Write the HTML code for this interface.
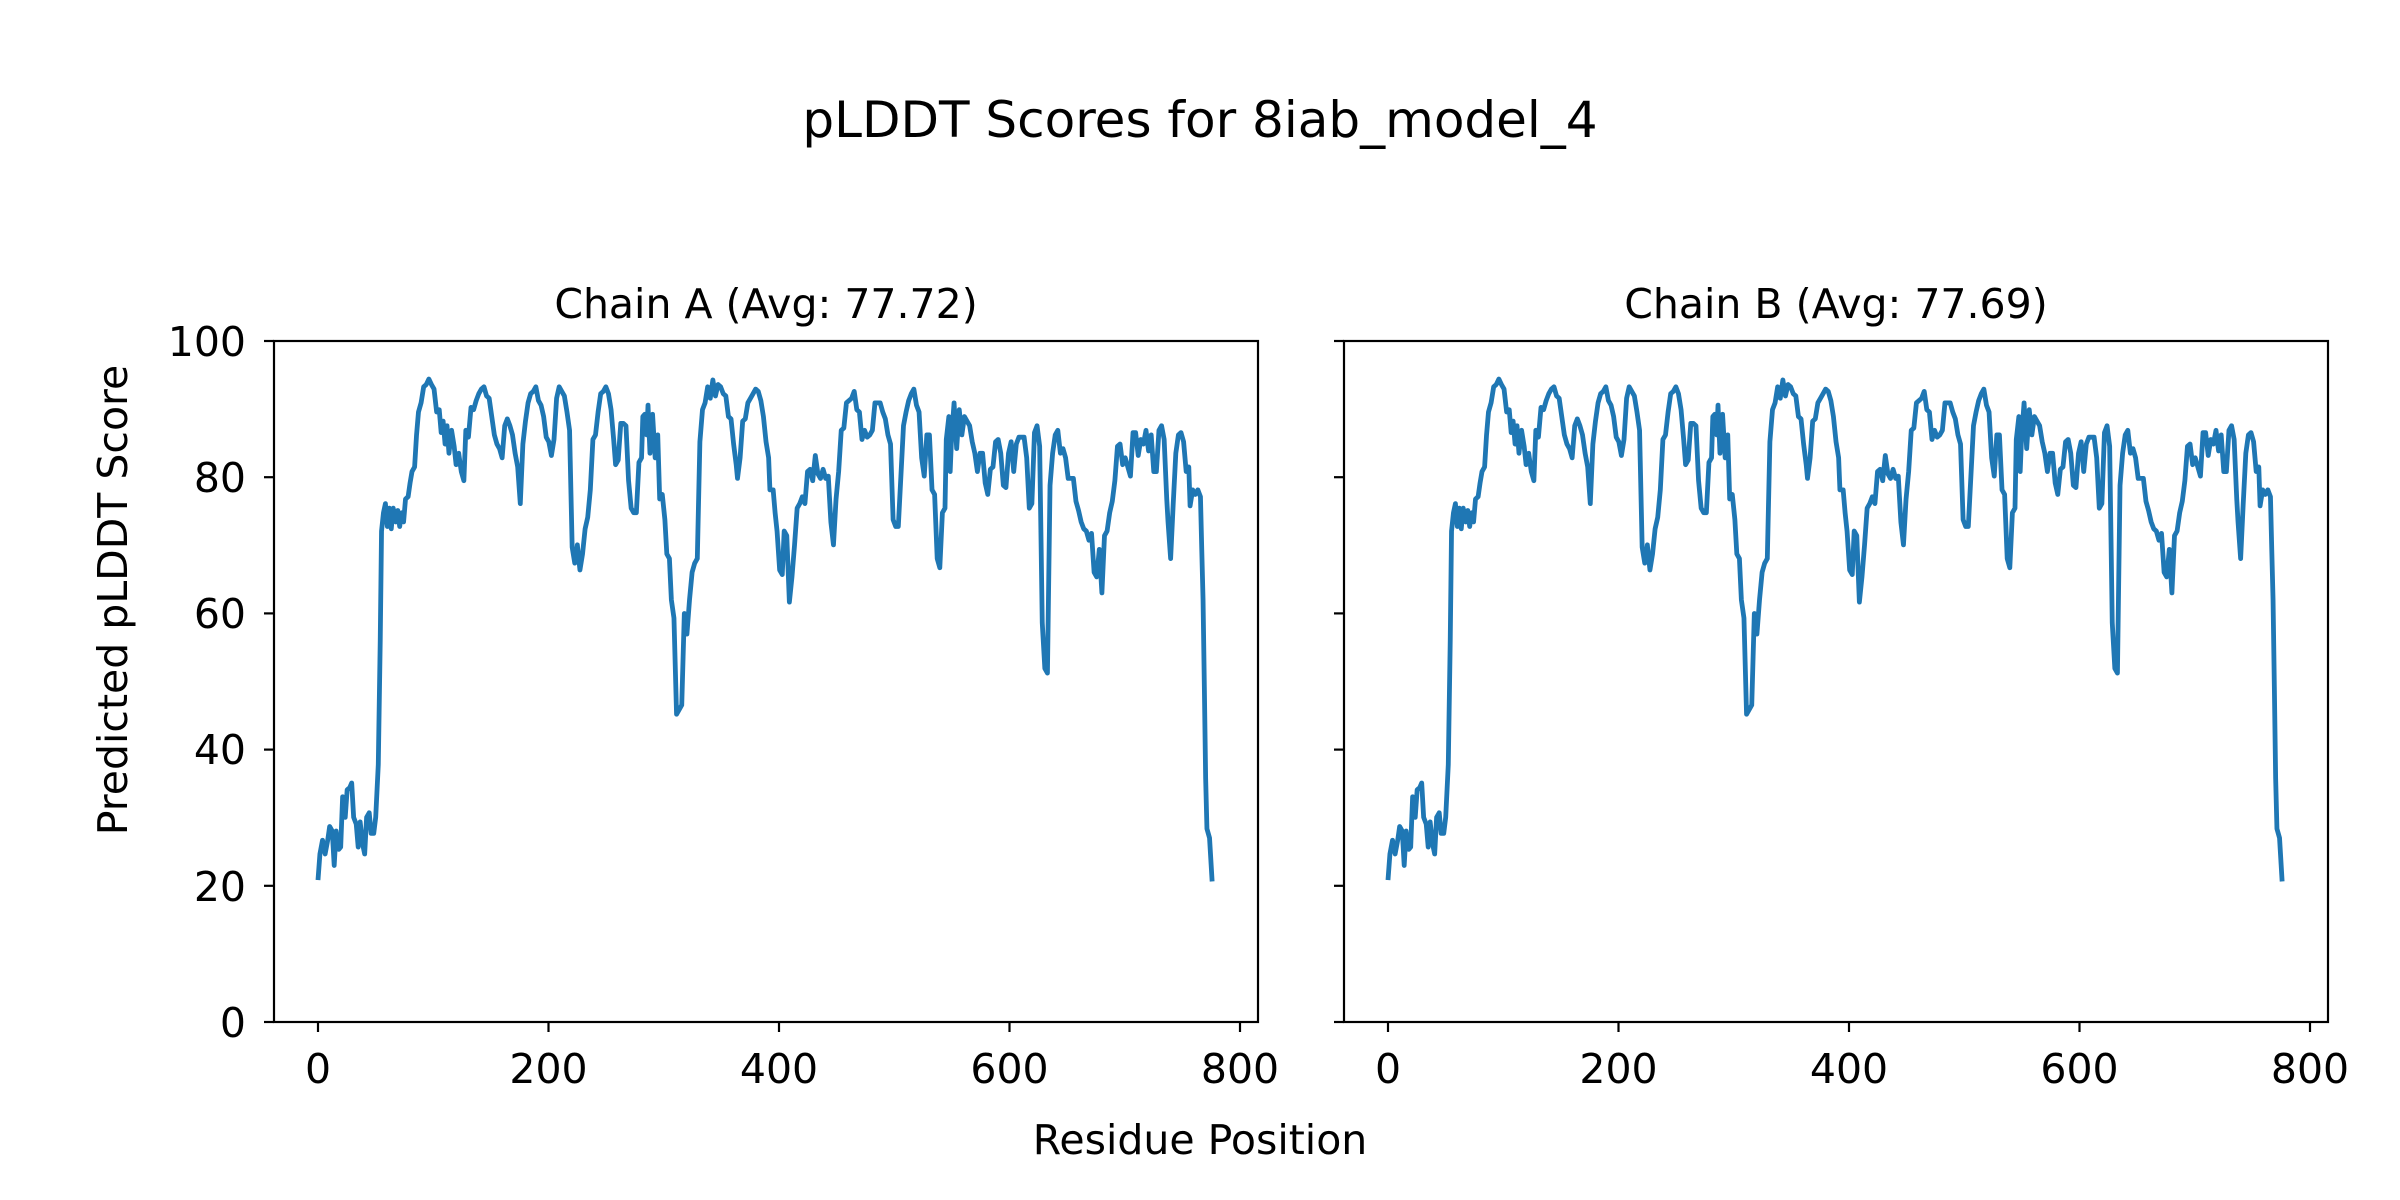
<!DOCTYPE html>
<html><head><meta charset="utf-8"><style>
html,body{margin:0;padding:0;background:#fff;}
svg{display:block;font-family:"DejaVu Sans","Liberation Sans",sans-serif;}
</style></head><body>
<svg width="2400" height="1200" viewBox="0 0 2400 1200" xmlns="http://www.w3.org/2000/svg">
<defs>
<polyline id="d" fill="none" stroke="#1f77b4" stroke-width="4.8" stroke-linejoin="round" vector-effect="non-scaling-stroke" points="103,1222 106,1165 110,1135 114,1165 118,1135 121,1105 125,1115 128,1190 131,1115 135,1155 138,1150 141,1040 145,1085 148,1025 152,1020 155,1010 158,1085 162,1100 165,1150 168,1095 172,1145 175,1165 178,1085 182,1075 185,1120 189,1120 192,1085 196,970 199,700 201,460 204,420 207,400 210,450 213,410 216,455 219,410 223,440 226,415 229,450 232,420 235,440 238,390 242,385 245,355 248,330 252,320 255,250 258,200 262,180 266,145 270,140 274,128 278,140 282,150 286,200 290,195 293,245 296,220 299,270 302,230 305,290 309,240 313,275 316,315 320,290 324,330 328,350 331,240 335,255 339,190 343,195 347,175 351,160 355,150 359,145 363,165 367,170 371,210 375,250 379,270 383,280 387,300 391,230 395,215 399,230 403,250 407,290 411,320 415,400 419,270 423,220 427,180 431,160 435,155 439,145 443,175 447,185 451,210 455,255 459,265 463,295 467,260 471,170 475,145 479,155 483,165 487,200 491,240 495,495 499,530 503,490 507,545 511,510 515,455 519,430 523,370 527,260 531,250 535,200 539,160 543,155 547,145 551,160 555,195 559,260 562,315 566,305 570,225 574,225 578,230 582,350 586,410 590,420 594,420 598,310 602,300 604,210 607,205 610,250 612,185 615,290 619,205 623,300 627,250 630,390 634,380 638,435 641,510 645,520 648,610 652,650 656,860 660,850 664,840 668,640 672,685 676,610 680,550 684,530 688,520 692,265 696,195 700,180 704,145 708,170 712,130 716,165 720,140 724,145 728,160 732,165 736,210 740,215 744,270 748,315 750,345 754,300 758,220 762,215 766,180 770,170 774,160 778,150 782,155 786,175 790,210 794,265 798,300 800,370 805,370 808,420 811,460 815,545 819,555 822,460 826,470 830,615 834,560 838,490 842,410 846,400 850,385 854,400 858,330 862,325 866,350 870,295 874,335 878,345 882,325 886,345 890,340 894,440 898,490 902,390 906,330 910,240 914,235 918,180 922,175 926,170 930,155 934,195 938,200 942,260 946,240 950,255 954,250 958,240 962,180 966,180 970,180 974,200 978,215 982,250 986,270 990,435 994,450 998,450 1002,340 1006,230 1010,200 1014,175 1018,160 1022,150 1026,185 1030,200 1034,300 1038,340 1042,250 1046,250 1050,370 1054,380 1058,520 1062,540 1066,420 1070,410 1072,260 1076,210 1078,330 1080,260 1084,180 1088,280 1092,195 1096,250 1100,210 1104,220 1108,230 1112,265 1116,290 1120,330 1124,290 1128,290 1132,355 1136,380 1140,325 1144,320 1148,265 1152,260 1156,290 1160,360 1164,365 1168,290 1172,265 1176,330 1180,270 1184,255 1188,255 1192,255 1196,300 1200,410 1204,400 1208,245 1212,230 1216,275 1220,660 1224,760 1228,770 1232,360 1236,290 1240,250 1244,240 1248,290 1252,280 1256,300 1260,345 1264,345 1268,345 1272,395 1276,415 1280,440 1284,455 1288,460 1292,480 1296,465 1300,550 1304,560 1308,500 1312,595 1316,470 1320,460 1324,420 1328,395 1332,350 1336,275 1340,270 1344,315 1348,300 1352,320 1356,340 1360,245 1364,245 1368,295 1372,260 1376,270 1380,240 1384,285 1388,250 1392,330 1396,330 1400,240 1404,230 1408,260 1412,390 1414,440 1418,520 1422,400 1426,290 1430,250 1434,245 1438,265 1442,330 1446,320 1448,405 1452,370 1456,380 1460,370 1464,385 1466,500 1468,610 1470,800 1472,1000 1474,1110 1478,1130 1482,1225"/>
<g id="xt" stroke="#000" stroke-width="2.2">
<line x1="318" y1="1022" x2="318" y2="1032"/><line x1="548.5" y1="1022" x2="548.5" y2="1032"/><line x1="779" y1="1022" x2="779" y2="1032"/><line x1="1009.5" y1="1022" x2="1009.5" y2="1032"/><line x1="1240" y1="1022" x2="1240" y2="1032"/>
<line x1="274" y1="341" x2="264" y2="341"/><line x1="274" y1="477.2" x2="264" y2="477.2"/><line x1="274" y1="613.4" x2="264" y2="613.4"/><line x1="274" y1="749.6" x2="264" y2="749.6"/><line x1="274" y1="885.8" x2="264" y2="885.8"/><line x1="274" y1="1022" x2="264" y2="1022"/>
</g>
<g id="xl" font-size="41" text-anchor="middle">
<text x="318" y="1083">0</text><text x="548.5" y="1083">200</text><text x="779" y="1083">400</text><text x="1009.5" y="1083">600</text><text x="1240" y="1083">800</text>
</g>
</defs>
<text x="1200" y="137" font-size="50" text-anchor="middle">pLDDT Scores for 8iab_model_4</text>
<g transform="matrix(0.6484,0,0,0.458,251.2,320.4)"><use href="#d"/></g>
<rect x="274" y="341" width="984" height="681" fill="none" stroke="#000" stroke-width="2.2"/>
<use href="#xt"/><use href="#xl"/>
<g font-size="41" text-anchor="end">
<text x="246" y="356">100</text><text x="246" y="492">80</text><text x="246" y="628">60</text><text x="246" y="764">40</text><text x="246" y="901">20</text><text x="246" y="1037">0</text>
</g>
<text x="766" y="318" font-size="41" text-anchor="middle">Chain A (Avg: 77.72)</text>
<text transform="translate(127,600) rotate(-90)" font-size="41" text-anchor="middle">Predicted pLDDT Score</text>
<g transform="translate(1070,0)">
<g transform="matrix(0.6484,0,0,0.458,251.2,320.4)"><use href="#d"/></g>
<rect x="274" y="341" width="984" height="681" fill="none" stroke="#000" stroke-width="2.2"/>
<use href="#xt"/><use href="#xl"/>
<text x="766" y="318" font-size="41" text-anchor="middle">Chain B (Avg: 77.69)</text>
</g>
<text x="1200" y="1154" font-size="41" text-anchor="middle">Residue Position</text>
</svg>
</body></html>
